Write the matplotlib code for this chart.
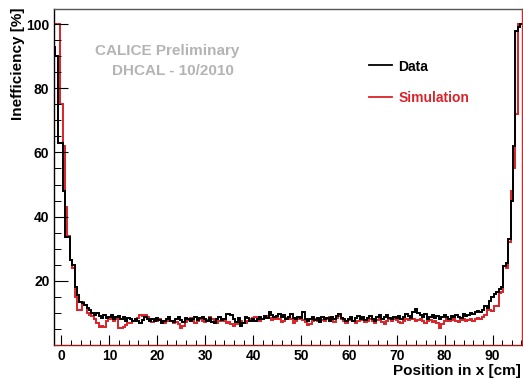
import numpy as np
import matplotlib
matplotlib.use("Agg")
import matplotlib.pyplot as plt
from matplotlib.ticker import MultipleLocator, FixedLocator
from matplotlib.lines import Line2D

plt.rcParams['font.family'] = ['Liberation Sans', 'DejaVu Sans']
plt.rcParams['font.weight'] = 'bold'

# ---- data: histogram bins of 0.5 cm, first bin starts at -1.75 cm ----
bin_start = -1.75
bin_width = 0.5

data_values = [
    93, 90, 63, 63, 48, 33.5, 33.5, 26.5, 25, 18, 15.5, 13.5, 13, 12.5, 11.5, 11, 10, 9.5, 10, 9, 8.5, 9.5, 8.5,
    8.8, 9.2, 8.0, 8.6, 9.0, 8.2, 8.8, 7.6, 8.4, 8.0,
    7.4, 8.2, 7.6, 6.8, 7.8, 8.6, 8.2, 7.4, 8.0, 7.6,
    8.4, 7.8, 7.0, 7.6, 8.2, 8.6, 7.6, 7.2, 8.0, 8.8,
    7.8, 7.2, 8.4, 8.0, 7.4, 8.2, 8.6, 7.8, 8.4, 8.8,
    8.2, 7.6, 8.4, 7.2, 7.0, 8.0, 8.6, 7.8, 8.2, 9.6,
    9.6, 9.4, 8.0, 7.2, 8.4, 5.8, 7.0, 8.8, 8.4, 7.6,
    8.2, 7.4, 8.0, 8.6, 8.2, 9.0, 8.4, 10.2, 9.2, 8.6,
    9.0, 9.6, 8.8, 9.4, 8.2, 8.6, 9.6, 8.4, 8.0, 8.8,
    8.4, 10.4, 8.0, 7.6, 8.2, 8.8, 7.8, 8.4, 7.2, 8.6,
    8.0, 8.4, 7.6, 8.8, 8.2, 9.0, 9.8, 8.4, 8.0, 7.4,
    8.2, 8.8, 7.6, 8.4, 9.0, 8.2, 8.6, 7.8, 8.4, 9.0,
    8.2, 7.6, 8.8, 9.4, 8.0, 8.6, 9.2, 8.4, 8.0, 8.8,
    8.4, 9.0, 8.2, 8.8, 9.6, 9.0, 8.4, 10.4, 11.2, 10.0,
    9.4, 8.8, 9.6, 8.2, 8.8, 9.2, 8.4, 9.0, 8.2, 8.8,
    9.4, 8.8, 8.2, 9.0, 8.6, 9.2, 8.8, 8.4, 9.6, 9.0,
    9.4, 10.0, 9.8, 10.4, 10.6, 10.2, 11.0, 12.0, 11.6, 13.6, 15.0, 16.0, 16.6, 17.4, 18.2,
    24.5, 25.6, 33.0, 45.0, 62.0, 98.0, 99.0, 100.0,
]

sim_values = [
    100, 100, 100, 75, 62, 43, 34, 26.5, 24, 15, 11, 11, 13.5, 12.5, 10, 9.5, 9, 8, 7, 5.5, 6, 5.5, 7.5,
    8.0, 8.6, 7.6, 8.0, 5.4, 5.4, 5.6, 6.2, 7.0, 6.8,
    7.4, 8.0, 8.4, 9.4, 9.0, 9.4, 8.6, 7.8, 7.2, 8.0,
    7.6, 8.2, 7.4, 6.8, 7.6, 8.0, 7.4, 6.8, 7.2, 6.4,
    5.4, 6.0, 7.2, 7.8, 8.4, 7.6, 7.0, 7.4, 8.0, 7.6,
    7.2, 7.8, 8.6, 8.2, 7.4, 6.8, 7.6, 8.0, 7.4, 7.0,
    7.2, 6.6, 6.0, 6.4, 7.2, 7.6, 7.0, 6.8, 7.4, 8.0,
    8.4, 8.8, 8.2, 7.6, 8.0, 8.6, 9.0, 8.4, 7.8, 8.2,
    8.6, 8.0, 7.2, 7.6, 8.4, 8.8, 8.2, 7.0, 7.4, 8.0,
    8.6, 7.8, 7.2, 6.2, 6.6, 7.4, 8.0, 7.6, 8.2, 7.8,
    7.4, 8.0, 8.6, 7.8, 7.2, 8.4, 9.0, 8.2, 7.6, 7.0,
    7.8, 8.4, 7.4, 6.8, 7.6, 8.2, 7.8, 7.2, 7.6, 8.0,
    7.6, 7.0, 7.8, 8.4, 7.2, 6.4, 7.4, 8.0, 7.6, 8.2,
    7.8, 7.2, 6.8, 7.6, 8.2, 7.8, 8.4, 8.0, 7.4, 7.8,
    8.2, 7.6, 7.0, 7.4, 7.8, 7.2, 7.6, 7.0, 5.2, 6.6,
    7.6, 8.0, 7.4, 7.8, 8.2, 7.6, 7.2, 7.8, 8.0, 7.6,
    7.8, 8.2, 7.6, 8.0, 8.4, 8.0, 8.6, 9.2, 11.0, 11.0, 10.6, 12.0, 12.2, 16.2, 16.4,
    24.5, 24.0, 32.0, 48.0, 55.0, 72.0, 100.0, 100.0,
]

x_ticks = [0, 10, 20, 30, 40, 50, 60, 70, 80, 90]
y_ticks = [20, 40, 60, 80, 100]
legend_labels = ["Data", "Simulation"]
x_label = "Position in x [cm]"
y_label = "Inefficiency [%]"
watermark = ["CALICE Preliminary", "DHCAL - 10/2010"]

RED = '#d9232a'
W, H = 523, 379

fig = plt.figure(figsize=(W / 100, H / 100), dpi=100)
ax = fig.add_axes([54.3 / W, 1 - 345 / H, (522.3 - 54.3) / W, (345 - 9) / H])

edges = bin_start + bin_width * np.arange(len(data_values) + 1)
ax.stairs(sim_values, edges, color=RED, lw=1.4, baseline=None)
ax.stairs(data_values, edges, color='black', lw=1.4, baseline=None)

ax.set_xlim(-1.5, 96.2)
ax.set_ylim(0, 104.7)

ax.xaxis.set_major_locator(FixedLocator(x_ticks))
ax.xaxis.set_minor_locator(MultipleLocator(2))
ax.yaxis.set_major_locator(FixedLocator(y_ticks))
ax.yaxis.set_minor_locator(MultipleLocator(5))

ax.tick_params(axis='x', which='major', direction='in', length=7.4, width=0.8, pad=3, labelsize=10)
ax.tick_params(axis='x', which='minor', direction='in', length=3.6, width=0.7)
ax.tick_params(axis='y', which='major', direction='in', length=10, width=0.8, pad=3.5, labelsize=10)
ax.tick_params(axis='y', which='minor', direction='in', length=5, width=0.7)
for lab in ax.get_xticklabels() + ax.get_yticklabels():
    lab.set_fontweight('bold')

ax.spines['left'].set_color('black')
ax.spines['bottom'].set_color('#a01818')
ax.spines['top'].set_color('#555555')
ax.spines['right'].set_color(RED)
for s in ax.spines.values():
    s.set_linewidth(1.0)

# axis titles (ROOT style placement)
fig.text(521 / W, 1 - 375.5 / H, x_label, ha='right', va='baseline', fontsize=11, fontweight='bold')
fig.text(18 / W, 1 - 8 / H, y_label, ha='center', va='top', rotation=90, fontsize=11, fontweight='bold')

# watermark
fig.text(95 / W, 1 - 55 / H, watermark[0], ha='left', va='baseline', fontsize=11, fontweight='bold', color='#b4b4b4')
fig.text(112 / W, 1 - 75 / H, watermark[1], ha='left', va='baseline', fontsize=11, fontweight='bold', color='#b4b4b4')

# legend
for lab, col, yl, yb in [(legend_labels[0], 'black', 65, 71), (legend_labels[1], RED, 97.3, 102)]:
    fig.add_artist(Line2D([369.3 / W, 391.7 / W], [1 - yl / H, 1 - yl / H], color=col, lw=1.3))
    fig.text(398.3 / W, 1 - yb / H, lab, ha='left', va='baseline', fontsize=10, fontweight='bold', color=col)

fig.savefig('out.png', dpi=100)
